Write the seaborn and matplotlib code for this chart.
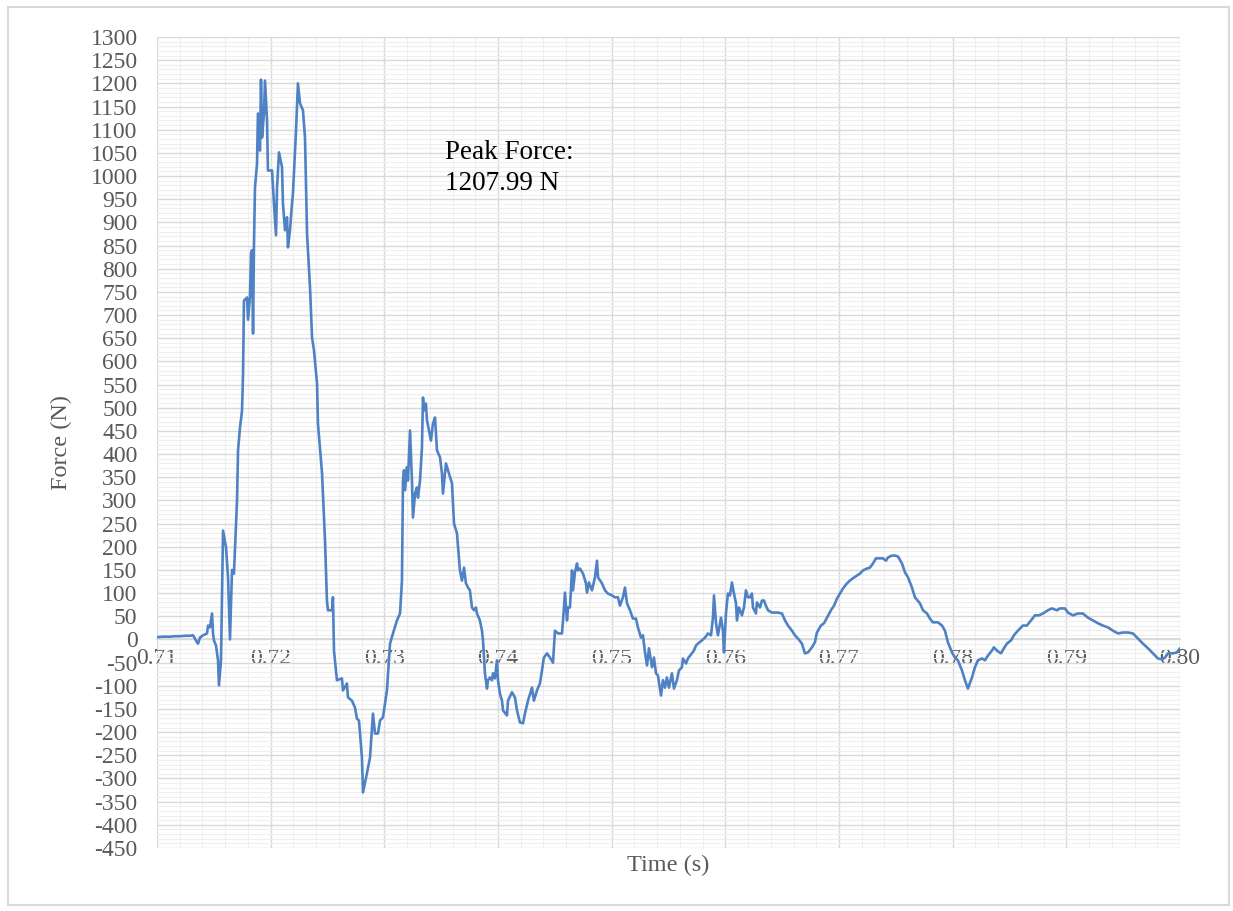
import numpy as np
import pandas as pd
import matplotlib
matplotlib.use('Agg')
import matplotlib.pyplot as plt
from matplotlib.patches import Rectangle
from matplotlib.ticker import MultipleLocator
import seaborn as sns

# time in ms, force in N
time_ms = [
    710.00, 710.50, 711.14, 711.60, 712.02, 712.50, 712.90, 713.17, 713.52, 713.61,
    713.78, 714.05, 714.40, 714.49, 714.66, 714.84, 714.93, 715.01, 715.19, 715.37,
    715.45, 715.63, 715.72, 715.81, 716.07, 716.25, 716.42, 716.60, 716.77, 717.04,
    717.13, 717.30, 717.48, 717.57, 717.61, 717.65, 717.92, 718.01, 718.18, 718.27,
    718.36, 718.45, 718.53, 718.62, 718.80, 718.88, 719.06, 719.15, 719.24, 719.41,
    719.50, 719.68, 719.76, 720.12, 720.29, 720.47, 720.56, 720.73, 721.00, 721.08,
    721.26, 721.44, 721.52, 721.70, 721.88, 721.96, 722.23, 722.40, 722.58, 722.84,
    723.02, 723.20, 723.46, 723.64, 723.81, 724.08, 724.16, 724.52, 724.78, 724.95,
    725.04, 725.39, 725.48, 725.57, 725.83, 726.27, 726.36, 726.71, 726.80, 727.15,
    727.42, 727.59, 727.77, 728.03, 728.12, 728.47, 728.74, 729.00, 729.18, 729.44,
    729.62, 729.88, 730.23, 730.50, 730.76, 731.11, 731.38, 731.55, 731.64, 731.73,
    731.82, 731.99, 732.08, 732.26, 732.43, 732.52, 732.70, 732.87, 732.96, 733.14,
    733.31, 733.40, 733.49, 733.66, 733.75, 734.10, 734.28, 734.46, 734.63, 734.90,
    735.07, 735.16, 735.42, 735.60, 735.95, 736.13, 736.39, 736.65, 736.83, 737.01,
    737.18, 737.36, 737.53, 737.71, 737.89, 738.06, 738.15, 738.41, 738.59, 738.68,
    738.85, 739.03, 739.12, 739.29, 739.47, 739.56, 739.73, 739.91, 740.00, 740.17,
    740.35, 740.44, 740.79, 740.88, 741.23, 741.49, 741.67, 741.93, 742.20, 742.37,
    742.64, 742.99, 743.16, 743.43, 743.69, 744.04, 744.31, 744.57, 744.84, 745.01,
    745.28, 745.63, 745.72, 745.89, 746.07, 746.16, 746.33, 746.51, 746.60, 746.77,
    746.95, 747.04, 747.21, 747.48, 747.74, 747.83, 748.00, 748.27, 748.53, 748.71,
    748.80, 749.15, 749.41, 749.67, 750.03, 750.29, 750.55, 750.73, 750.99, 751.17,
    751.35, 751.61, 751.87, 752.14, 752.31, 752.58, 752.75, 752.93, 753.11, 753.28,
    753.55, 753.72, 753.90, 754.07, 754.34, 754.51, 754.69, 754.86, 755.04, 755.30,
    755.48, 755.74, 755.92, 756.18, 756.27, 756.54, 756.71, 757.06, 757.24, 757.42,
    757.59, 757.94, 758.21, 758.47, 758.74, 758.91, 759.00, 759.18, 759.35, 759.62,
    759.79, 759.88, 760.06, 760.23, 760.41, 760.58, 760.76, 760.94, 761.02, 761.20,
    761.46, 761.64, 761.81, 761.99, 762.17, 762.34, 762.43, 762.69, 762.78, 763.05,
    763.22, 763.40, 763.57, 763.75, 764.10, 764.37, 764.63, 764.98, 765.25, 765.51,
    765.86, 766.12, 766.39, 766.74, 767.00, 767.27, 767.62, 767.88, 768.06, 768.41,
    768.68, 768.94, 769.29, 769.56, 769.82, 770.08, 770.35, 770.70, 770.96, 771.23,
    771.58, 771.84, 772.11, 772.46, 772.72, 772.99, 773.25, 773.60, 773.87, 774.13,
    774.31, 774.66, 774.92, 775.19, 775.54, 775.80, 776.07, 776.42, 776.68, 777.12,
    777.39, 777.74, 778.00, 778.26, 778.70, 779.06, 779.32, 779.58, 779.94, 780.20,
    780.46, 780.82, 781.08, 781.34, 781.70, 781.96, 782.22, 782.58, 782.84, 783.10,
    783.45, 783.63, 783.89, 784.25, 784.51, 784.77, 785.13, 785.39, 785.74, 786.18,
    786.53, 786.89, 787.24, 787.59, 787.94, 788.38, 788.73, 789.17, 789.44, 789.88,
    790.14, 790.58, 791.02, 791.46, 791.90, 792.34, 792.78, 793.22, 793.66, 794.10,
    794.54, 794.98, 795.42, 795.86, 796.30, 796.74, 797.18, 797.62, 798.06, 798.41,
    798.68, 798.94, 799.38, 799.73, 800.00,
]
force_n = [
    5, 6, 6, 7, 7, 8, 8, 9, -6, -9,
    4, 9, 13, 30, 26, 56, 13, -2, -13, -45,
    -99, -45, 99, 235, 199, 134, 0, 150, 142, 300,
    408, 457, 494, 574, 645, 731, 738, 690, 740, 833,
    840, 660, 850, 975, 1027, 1135, 1055, 1207.99, 1083, 1135,
    1206, 1120, 1012, 1012, 941, 872, 975, 1051, 1019, 941,
    883, 911, 846, 883, 941, 962, 1098, 1200, 1157, 1142,
    1083, 876, 760, 652, 624, 552, 466, 358, 214, 84,
    63, 63, 91, -24, -88, -84, -110, -95, -125, -132,
    -147, -171, -175, -255, -330, -289, -255, -160, -203, -203,
    -175, -168, -110, -9, 13, 41, 56, 127, 343, 365,
    322, 372, 343, 451, 343, 263, 315, 328, 306, 343,
    414, 522, 494, 509, 473, 429, 466, 479, 408, 393,
    358, 315, 380, 365, 337, 250, 229, 149, 127, 155,
    121, 112, 106, 69, 63, 69, 56, 41, 19, -2,
    -73, -106, -88, -82, -88, -73, -84, -45, -88, -117,
    -132, -153, -164, -132, -114, -125, -153, -179, -181, -160,
    -132, -104, -132, -110, -95, -39, -30, -39, -50, 19,
    13, 13, 41, 101, 41, 69, 69, 149, 106, 145,
    164, 149, 153, 142, 121, 101, 123, 106, 134, 170,
    134, 121, 106, 99, 95, 91, 91, 73, 91, 112,
    78, 63, 45, 45, 26, 4, 9, -28, -56, -19,
    -60, -39, -73, -78, -121, -88, -104, -82, -104, -73,
    -106, -88, -67, -60, -41, -52, -41, -30, -24, -13,
    -9, -2, 4, 13, 9, 47, 95, 35, 9, 47,
    19, -28, 58, 99, 95, 123, 99, 78, 41, 69,
    52, 69, 106, 91, 91, 99, 69, 56, 80, 69,
    84, 84, 73, 63, 58, 58, 58, 56, 41, 30,
    19, 9, 2, -9, -30, -28, -17, -6, 15, 30,
    35, 47, 63, 73, 88, 99, 110, 121, 127, 132,
    138, 142, 149, 153, 155, 164, 175, 175, 175, 170,
    177, 181, 181, 179, 164, 145, 134, 112, 91, 78,
    63, 56, 45, 37, 37, 30, 19, -6, -28, -39,
    -45, -67, -88, -106, -82, -60, -45, -41, -45, -35,
    -24, -17, -24, -30, -19, -9, -2, 9, 19, 30,
    30, 41, 52, 52, 56, 63, 67, 63, 67, 67,
    58, 52, 56, 56, 47, 41, 35, 30, 26, 19,
    13, 15, 15, 13, 2, -9, -19, -30, -41, -43,
    -39, -30, -30, -28, -19,
]

x_ticks = [0.71, 0.72, 0.73, 0.74, 0.75, 0.76, 0.77, 0.78, 0.79, 0.80]
y_min, y_max = -450, 1300
peak_label = 'Peak Force:\n1207.99 N'

df = pd.DataFrame({'time': np.array(time_ms) / 1000.0, 'force': force_n})

sns.set_theme(style='white')
plt.rcParams['font.family'] = ['Liberation Serif', 'DejaVu Serif']
plt.rcParams['axes.unicode_minus'] = False

fig = plt.figure(figsize=(12.33, 9.11), dpi=100)
ax = fig.add_axes([157 / 1233, 1 - 848 / 911, (1180 - 157) / 1233, (848 - 37) / 911])

sns.lineplot(data=df, x='time', y='force', ax=ax, color='#4E82C4',
             linewidth=1.9, estimator=None, sort=False, zorder=3)

ax.set_xlim(0.71, 0.80)
ax.set_ylim(y_min, y_max)
ax.set_xticks(x_ticks)
ax.set_xticklabels([f'{t:.2f}' for t in x_ticks])
ax.set_yticks(np.arange(y_min, y_max + 1, 50))
ax.xaxis.set_minor_locator(MultipleLocator(0.002))
ax.yaxis.set_minor_locator(MultipleLocator(10))

ax.grid(which='major', color='#d9d9d9', linewidth=1.0, zorder=0)
ax.grid(which='minor', color='#efefef', linewidth=0.8, zorder=0)
ax.set_axisbelow(True)

for side in ['top', 'right', 'left']:
    ax.spines[side].set_visible(False)
ax.spines['bottom'].set_position(('data', 0))
ax.spines['bottom'].set_color('#d9d9d9')

ax.tick_params(axis='both', which='both', length=0, colors='#595959', labelsize=17)
ax.tick_params(axis='y', pad=14)
ax.tick_params(axis='x', pad=6)

ax.set_xlabel('Time (s)', fontsize=17.5, color='#595959')
ax.set_ylabel('Force (N)', fontsize=17.5, color='#595959')
ax.xaxis.set_label_coords(0.5, -0.009)
ax.yaxis.set_label_coords(-0.083, 0.5)

ax.text(0.7353, 1077, peak_label, fontsize=19.5, color='black',
        ha='left', va='top', linespacing=1.3)

fig.patches.append(Rectangle((8 / 1233, 1 - 905 / 911), 1221 / 1233, 898 / 911,
                             transform=fig.transFigure, fill=False,
                             edgecolor='#d9d9d9', linewidth=1.5))

fig.savefig('out.png', dpi=100, facecolor='white')
